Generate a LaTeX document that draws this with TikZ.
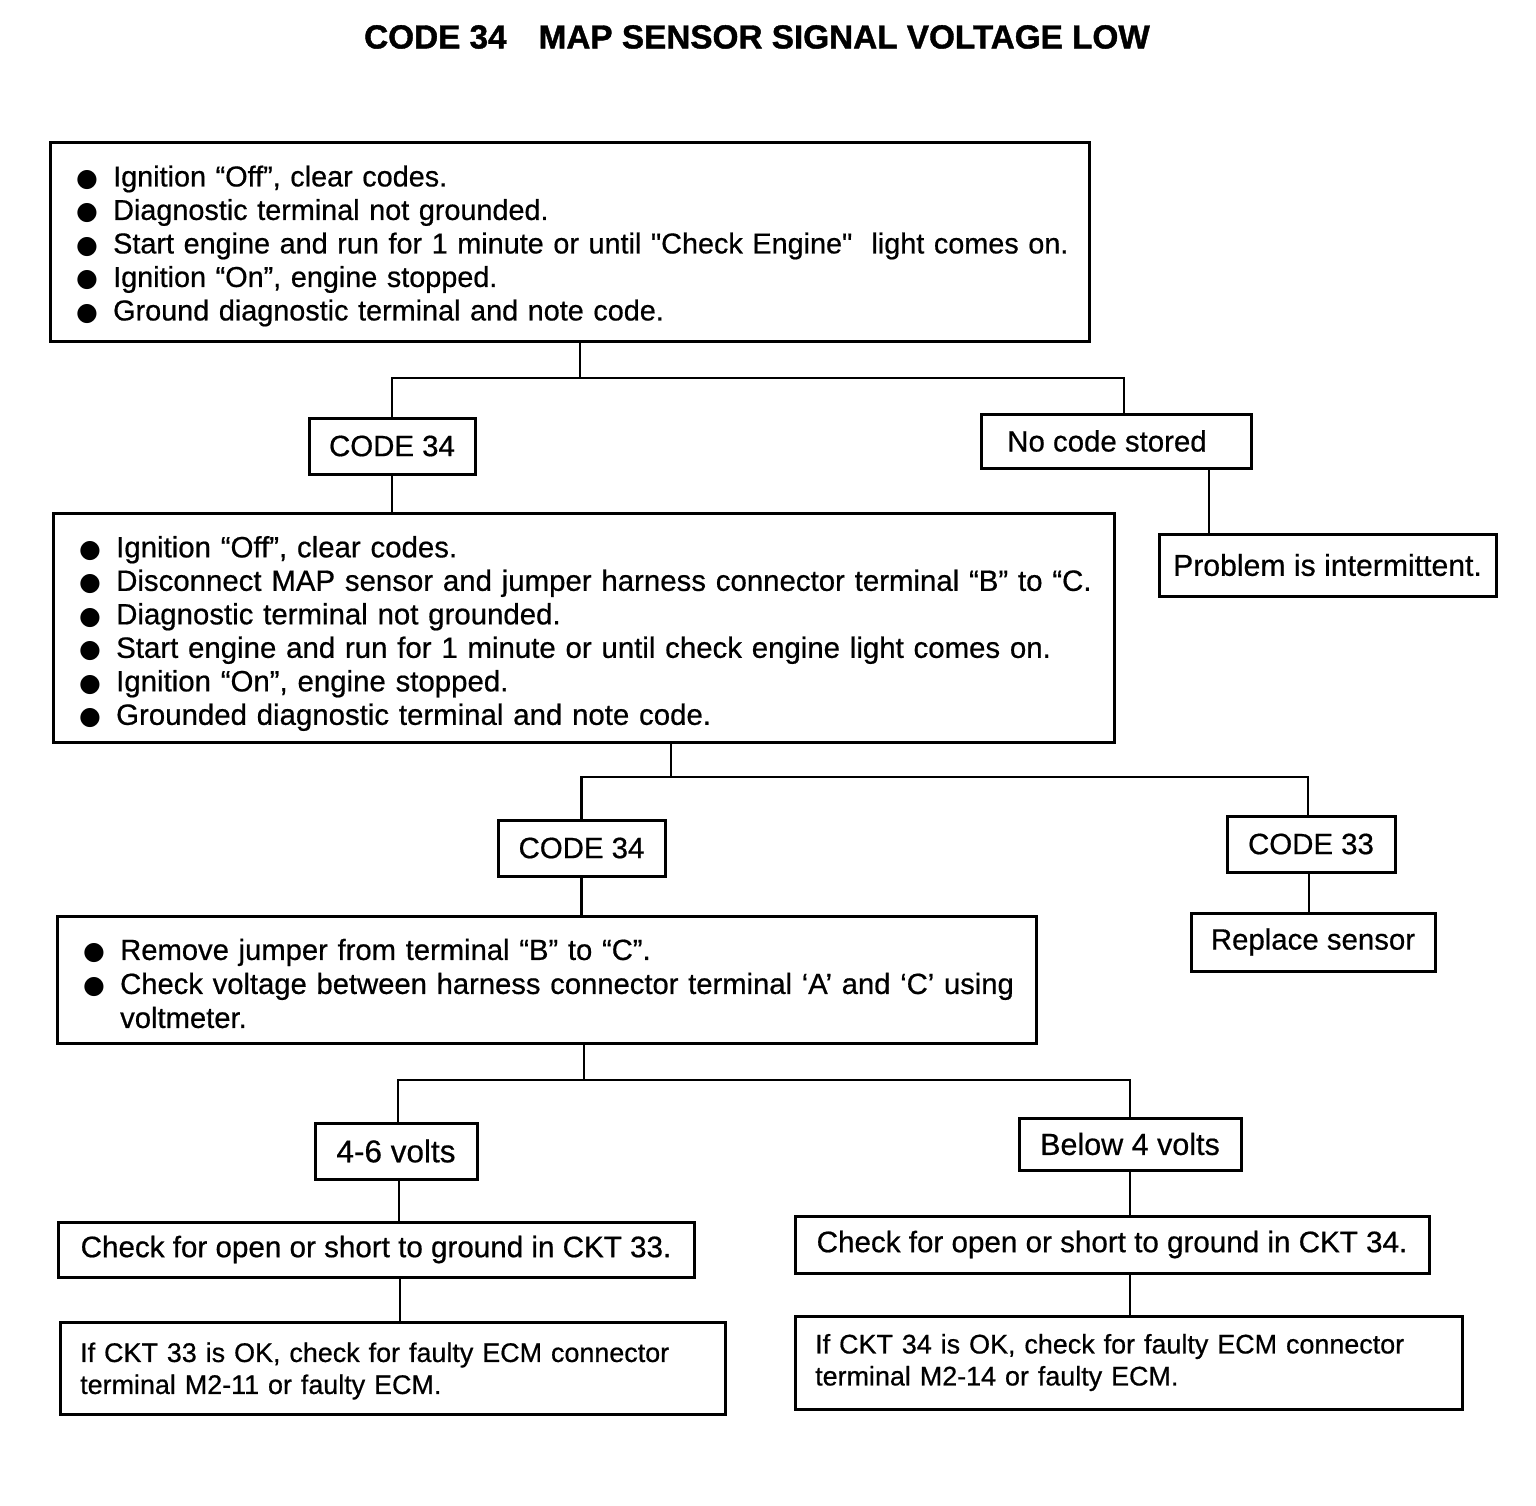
\documentclass[tikz,border=0pt]{standalone}
\usepackage{fontspec}
\setmainfont{Liberation Sans}[FakeBold=0.6]
\newfontfamily\titlefont{Liberation Sans Bold}[FakeBold=1.2]
\newfontfamily\dvfont{DejaVu Sans}
\usetikzlibrary{calc}
\newcommand{\bul}{\makebox[37pt][l]{\fontsize{25}{25}\selectfont\dvfont ●}}
\newcommand{\ind}{\makebox[37pt][l]{}}
\begin{document}
\begin{tikzpicture}[x=1pt,y=-1pt,
  box/.style={draw, line width=3pt, inner sep=0pt, outer sep=0pt},
  body/.style={font=\fontsize{29.4}{33.5}\selectfont},
  bodya/.style={font=\fontsize{28.8}{33.5}\selectfont},
  bodyc/.style={font=\fontsize{29.2}{34}\selectfont},
  small/.style={font=\fontsize{26.9}{32}\selectfont},
  chk/.style={font=\fontsize{29.6}{32}\selectfont},
  txt/.style={anchor=west, align=left, inner sep=0pt},
  conn/.style={line width=2.2pt}]
\useasboundingbox[fill=white] (0,0) rectangle (1536,1506);

\node[font=\fontsize{33.3}{33.3}\selectfont\titlefont] (title) at (757,37) {CODE 34\hspace{32pt}MAP SENSOR SIGNAL VOLTAGE LOW};

% box 1
\node[box, anchor=north west, minimum width=1039pt, minimum height=198pt] (b1) at (50,143) {};
\node[bodya, txt, text width=1100pt] (b1t) at ($(b1.west)+(26,4)$)
{\bul Ignition “Off”, clear codes.\\
 \bul Diagnostic terminal not grounded.\\
 \bul Start engine and run for 1 minute or until \textquotedbl Check Engine\textquotedbl\ \ light comes on.\\
 \bul Ignition “On”, engine stopped.\\
 \bul Ground diagnostic terminal and note code.};

\node[box, body, minimum width=166pt, minimum height=56pt] (c34a) at (392,446) {CODE 34};
\node[box, body, minimum width=270pt, minimum height=54pt] (nocode) at (1116,441) {\hspace{-18pt}No code stored};
\node[box, font=\fontsize{30.2}{30}\selectfont, minimum width=337pt, minimum height=62pt] (prob) at (1327.5,565) {Problem is intermittent.};

% box 2
\node[box, anchor=north west, minimum width=1061pt, minimum height=229pt] (b2) at (53,513) {};
\node[body, txt, text width=1100pt] (b2t) at ($(b2.west)+(26,6)$)
{\bul Ignition “Off”, clear codes.\\
 \bul Disconnect MAP sensor and jumper harness connector terminal “B” to “C.\\
 \bul Diagnostic terminal not grounded.\\
 \bul Start engine and run for 1 minute or until check engine light comes on.\\
 \bul Ignition “On”, engine stopped.\\
 \bul Grounded diagnostic terminal and note code.};

\node[box, body, minimum width=167pt, minimum height=56pt] (c34b) at (581.5,848) {CODE 34};
\node[box, body, minimum width=168pt, minimum height=56pt] (c33) at (1311,844) {CODE 33};
\node[box, body, minimum width=244pt, minimum height=58pt] (repl) at (1313,942) {Replace sensor};

% box 3
\node[box, anchor=north west, minimum width=979pt, minimum height=127pt] (b3) at (57,916) {};
\node[bodyc, txt, text width=1100pt] (b3t) at ($(b3.west)+(26,4)$)
{\bul Remove jumper from terminal “B” to “C”.\\
 \bul Check voltage between harness connector terminal ‘A’ and ‘C’ using\\
 \ind voltmeter.};

\node[box, font=\fontsize{31.5}{31}\selectfont, minimum width=162pt, minimum height=56pt] (v46) at (396,1151) {4-6 volts};
\node[box, font=\fontsize{30.5}{30}\selectfont, minimum width=222pt, minimum height=52pt] (vb4) at (1130,1144) {Below 4 volts};

\node[box, chk, minimum width=636pt, minimum height=55pt] (ck33) at (376,1249.5) {Check for open or short to ground in CKT 33.};
\node[box, anchor=north west, minimum width=665pt, minimum height=92pt] (if33) at (60,1322) {};
\node[small, txt, text width=700pt] (if33t) at ($(if33.west)+(20,3)$)
{If CKT 33 is OK, check for faulty ECM connector\\terminal M2-11 or faulty ECM.};

\node[box, chk, minimum width=634pt, minimum height=57pt] (ck34) at (1112,1244.5) {Check for open or short to ground in CKT 34.};
\node[box, anchor=north west, minimum width=667pt, minimum height=93pt] (if34) at (795,1316) {};
\node[small, txt, text width=700pt] (if34t) at ($(if34.west)+(20,0)$)
{If CKT 34 is OK, check for faulty ECM connector\\terminal M2-14 or faulty ECM.};

% connectors
\coordinate (j1) at (580,378);
\coordinate (j1r) at (1124,378);
\draw[conn] (b1.south -| j1) -- (j1);
\draw[conn] (c34a.north) |- (j1r) -- (j1r |- nocode.north);
\coordinate (p1) at (1209,500);
\draw[conn] (nocode.south -| p1) -- (prob.north -| p1);
\draw[conn] (c34a.south) -- (c34a.south |- b2.north);

\coordinate (j2) at (671,777);
\coordinate (j2r) at (1308,777);
\draw[conn] (b2.south -| j2) -- (j2);
\draw[conn] (c34b.north) |- (j2r) -- (j2r |- c33.north);
\coordinate (p2) at (1309,900);
\draw[conn] (c33.south -| p2) -- (repl.north -| p2);
\draw[conn] (c34b.south) -- (c34b.south |- b3.north);

\coordinate (j3) at (584,1080);
\coordinate (j3l) at (398,1080);
\coordinate (j3r) at (1130,1080);
\draw[conn] (b3.south -| j3) -- (j3);
\draw[conn] (j3l |- v46.north) -- (j3l) -- (j3r) -- (j3r |- vb4.north);
\coordinate (p3) at (399,1200);
\draw[conn] (v46.south -| p3) -- (ck33.north -| p3);
\coordinate (p4) at (400,1300);
\draw[conn] (ck33.south -| p4) -- (if33.north -| p4);
\coordinate (p5) at (1130,1200);
\draw[conn] (vb4.south -| p5) -- (ck34.north -| p5);
\draw[conn] (ck34.south -| p5) -- (if34.north -| p5);
\end{tikzpicture}
\end{document}
